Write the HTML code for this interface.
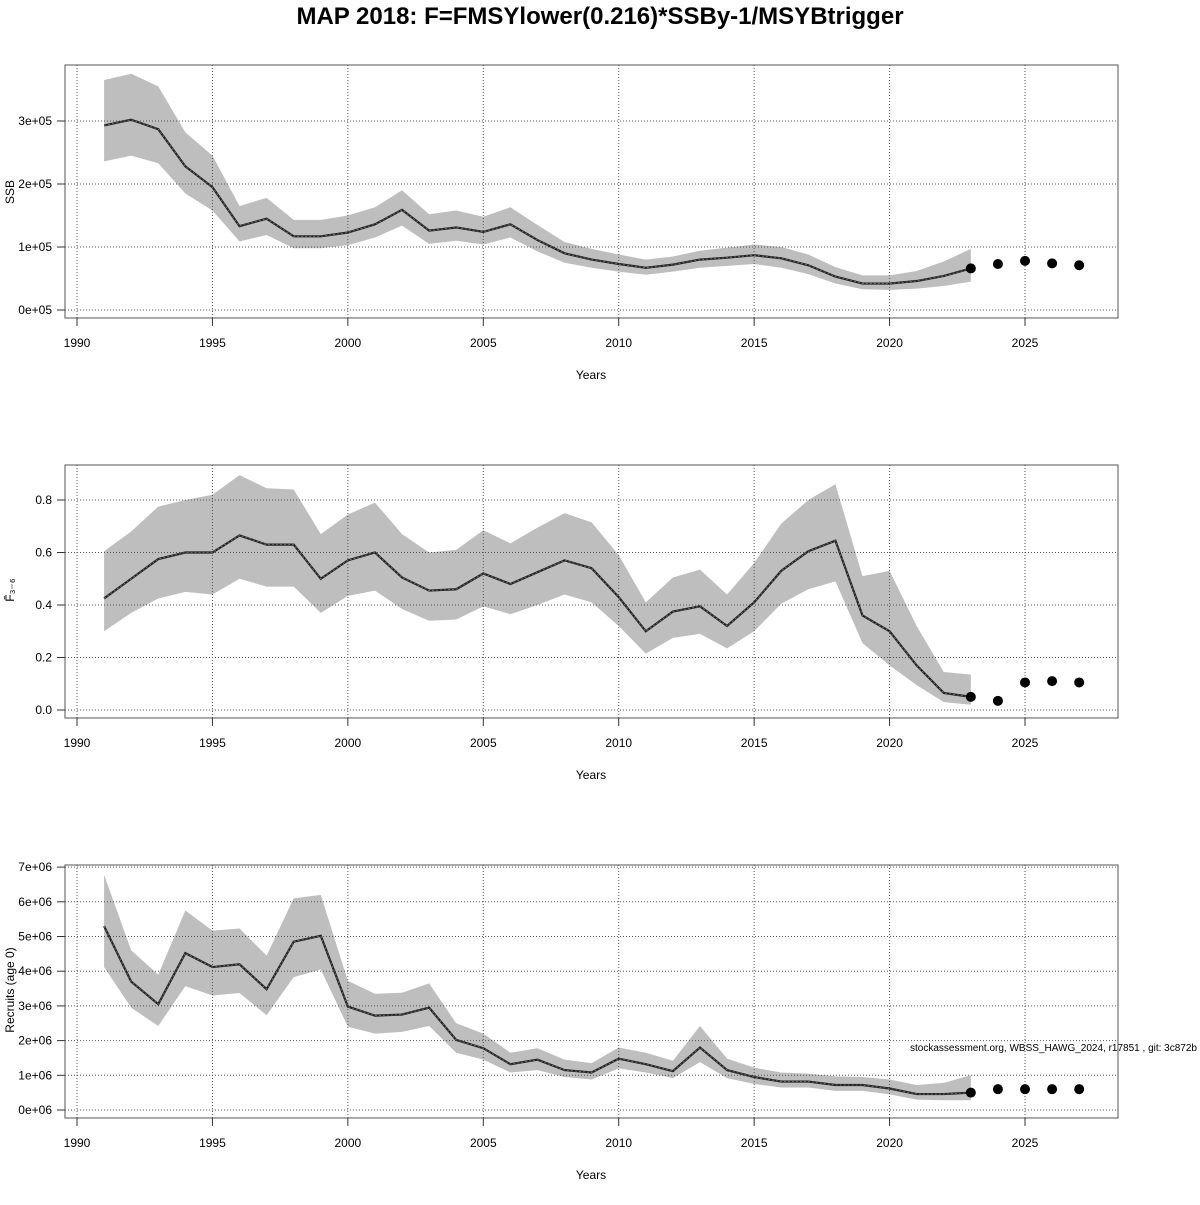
<!DOCTYPE html>
<html><head><meta charset="utf-8"><style>
body{margin:0;background:#fff;width:1200px;height:1200px;overflow:hidden}
svg text{font-family:"Liberation Sans",sans-serif;font-size:12px;fill:#000}
</style></head><body>
<svg id="s" width="1200" height="1200" xmlns="http://www.w3.org/2000/svg">
<text x="600" y="24" text-anchor="middle" style="font-size:24px;font-weight:bold">MAP 2018: F=FMSYlower(0.216)*SSBy-1/MSYBtrigger</text>
<text x="910" y="1051" style="font-size:10px">stockassessment.org, WBSS_HAWG_2024, r17851 , git: 3c872b</text>
</svg>
<script>
const s=document.getElementById('s');const NS="http://www.w3.org/2000/svg";
function el(t,a,txt){const e=document.createElementNS(NS,t);for(const k in a)e.setAttribute(k,a[k]);if(txt!==undefined)e.textContent=txt;s.appendChild(e);return e;}
const X=y=>77+(y-1990)*27.086;
const panels=[
{top:65,bot:318,y0:310,ppu:63,ticks:[0,1,2,3],lab:v=>v+"e+05",ylab:"SSB",ylx:14,yly:192,
mid:[2.93,3.02,2.87,2.28,1.95,1.33,1.45,1.17,1.17,1.23,1.36,1.59,1.26,1.31,1.24,1.36,1.11,0.90,0.80,0.73,0.67,0.72,0.80,0.83,0.87,0.82,0.71,0.53,0.42,0.42,0.46,0.54,0.66],
up:[3.65,3.75,3.55,2.82,2.45,1.65,1.78,1.43,1.43,1.50,1.63,1.90,1.52,1.58,1.48,1.63,1.35,1.08,0.97,0.88,0.80,0.85,0.94,0.99,1.04,1.00,0.88,0.68,0.55,0.55,0.62,0.77,0.97],
lo:[2.36,2.45,2.33,1.85,1.58,1.09,1.19,0.98,0.98,1.03,1.15,1.34,1.05,1.10,1.04,1.15,0.93,0.75,0.67,0.61,0.56,0.61,0.67,0.70,0.73,0.67,0.57,0.42,0.33,0.32,0.34,0.38,0.45],
pts:[0.66,0.73,0.78,0.74,0.71]},
{top:465,bot:718,y0:710,ppu:262.5,ticks:[0,0.2,0.4,0.6,0.8],lab:v=>v.toFixed(1),ylab:"F̄₃₋₆",ylx:14,yly:590,
mid:[0.425,0.50,0.575,0.60,0.60,0.665,0.63,0.63,0.50,0.57,0.60,0.505,0.455,0.46,0.52,0.48,0.525,0.57,0.54,0.43,0.30,0.375,0.395,0.32,0.41,0.53,0.605,0.645,0.36,0.30,0.17,0.065,0.05],
up:[0.605,0.68,0.775,0.80,0.82,0.895,0.845,0.84,0.67,0.745,0.79,0.67,0.60,0.61,0.685,0.635,0.695,0.75,0.715,0.59,0.41,0.505,0.535,0.44,0.56,0.71,0.80,0.86,0.51,0.53,0.32,0.145,0.135],
lo:[0.30,0.37,0.425,0.45,0.44,0.50,0.47,0.47,0.37,0.435,0.455,0.385,0.34,0.345,0.395,0.365,0.40,0.44,0.41,0.32,0.215,0.275,0.29,0.235,0.30,0.405,0.46,0.49,0.255,0.17,0.095,0.03,0.02],
pts:[0.05,0.035,0.105,0.11,0.105]},
{top:865,bot:1118,y0:1110,ppu:34.7,ticks:[0,1,2,3,4,5,6,7],lab:v=>v+"e+06",ylab:"Recruits (age 0)",ylx:14,yly:990,
mid:[5.3,3.7,3.05,4.52,4.12,4.2,3.48,4.85,5.02,2.98,2.72,2.75,2.95,2.02,1.78,1.32,1.45,1.15,1.08,1.48,1.32,1.12,1.8,1.15,0.95,0.82,0.82,0.72,0.72,0.62,0.46,0.46,0.5],
up:[6.78,4.6,3.9,5.75,5.17,5.23,4.45,6.1,6.2,3.72,3.35,3.38,3.65,2.5,2.2,1.65,1.78,1.45,1.35,1.8,1.65,1.42,2.42,1.48,1.22,1.08,1.05,0.97,0.95,0.88,0.72,0.78,1.0],
lo:[4.12,2.95,2.42,3.57,3.3,3.37,2.73,3.83,4.05,2.4,2.2,2.25,2.42,1.65,1.45,1.08,1.15,0.95,0.88,1.2,1.08,0.92,1.38,0.92,0.75,0.65,0.65,0.55,0.55,0.45,0.3,0.28,0.28],
pts:[0.5,0.6,0.6,0.6,0.6]}];
for(const p of panels){
 const Y=v=>p.y0-v*p.ppu;
 let poly=[];p.up.forEach((v,i)=>poly.push(X(1991+i)+","+Y(v)));
 for(let i=p.lo.length-1;i>=0;i--)poly.push(X(1991+i)+","+Y(p.lo[i]));
 el('polygon',{points:poly.join(' '),fill:'#bebebe'});
 for(let yr=1990;yr<=2025;yr+=5){el('line',{x1:X(yr),x2:X(yr),y1:p.top,y2:p.bot,stroke:'#555','stroke-dasharray':'1,2','stroke-width':1});
  el('line',{x1:X(yr),x2:X(yr),y1:p.bot,y2:p.bot+8,stroke:'#333'});
  el('text',{x:X(yr),y:p.bot+29,'text-anchor':'middle'},String(yr));}
 for(const t of p.ticks){el('line',{x1:65,x2:1118,y1:Y(t),y2:Y(t),stroke:'#555','stroke-dasharray':'1,2'});
  el('line',{x1:57,x2:65,y1:Y(t),y2:Y(t),stroke:'#333'});
  el('text',{x:52,y:Y(t)+4,'text-anchor':'end'},p.lab(t));}
 el('line',{x1:65,x2:65,y1:Y(p.ticks[0]),y2:Y(p.ticks[p.ticks.length-1]),stroke:'#333'});
 el('line',{x1:X(1990),x2:X(2025),y1:p.bot,y2:p.bot,stroke:'#333'});
 el('rect',{x:65,y:p.top,width:1053,height:p.bot-p.top,fill:'none',stroke:'#555'});
 el('polyline',{points:p.mid.map((v,i)=>X(1991+i)+","+Y(v)).join(' '),fill:'none',stroke:'#222','stroke-width':2.2});
 el('polyline',{points:p.mid.map((v,i)=>X(1991+i)+","+Y(v)).join(' '),fill:'none',stroke:'#777','stroke-width':0.8,'stroke-dasharray':'2,2'});
 p.pts.forEach((v,i)=>el('circle',{cx:X(2023+i),cy:Y(v),r:5,fill:'#000'}));
 el('text',{x:591,y:p.bot+61,'text-anchor':'middle'},"Years");
 el('text',{x:p.ylx,y:p.yly,'text-anchor':'middle',transform:`rotate(-90 ${p.ylx} ${p.yly})`},p.ylab);
}
</script>
</body></html>
